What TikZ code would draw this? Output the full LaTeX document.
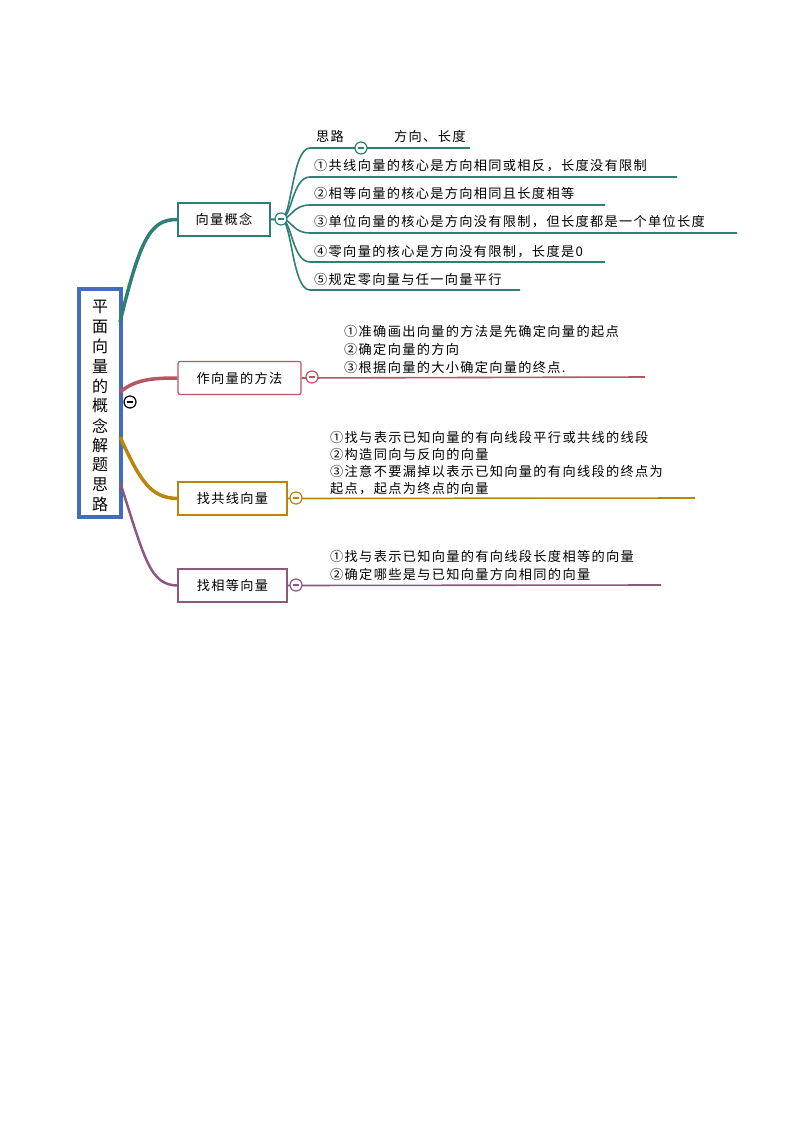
\documentclass[tikz,border=0pt]{standalone}
\usepackage{fontspec}
\setmainfont{Noto Sans CJK SC}[LetterSpace=10]
\begin{document}
\begin{tikzpicture}[x=1pt,y=-1pt,
  lab/.style={anchor=base west,inner sep=0pt,font=\fontsize{13.2}{15}\selectfont},
  topic/.style={draw,line width=1.2pt,fill=white,minimum height=33pt,font=\fontsize{13.2}{15}\selectfont,inner sep=0pt},
  minus/.style={circle,draw,fill=white,line width=1.2pt,minimum size=12pt,inner sep=0pt,path picture={\draw[line width=1.2pt] ([xshift=-3pt]path picture bounding box.center)--([xshift=3pt]path picture bounding box.center);}}]
\definecolor{teal1}{RGB}{46,128,118}
\definecolor{red1}{RGB}{183,86,98}
\definecolor{gold1}{RGB}{184,134,11}
\definecolor{purp1}{RGB}{140,88,128}
\definecolor{blue1}{RGB}{66,110,185}
\useasboundingbox (0,0) rectangle (794,1123);
% root
\node[draw=blue1,line width=4pt,minimum width=42pt,minimum height=228pt,inner sep=0pt,fill=white] (root) at (100,403) {};
\foreach \c [count=\i] in {平,面,向,量,的,概,念,解,题,思,路}
  \node[font=\fontsize{16}{17}\selectfont,inner sep=0pt] at (100,287+19.8*\i) {\c};
% topics
\node[topic,draw=teal1,minimum width=92pt] (t1) at (224,219.5) {向量概念};
\node[topic,draw=red1,minimum width=123pt,rounded corners=2pt] (t2) at (239.5,378) {作向量的方法};
\node[topic,draw=gold1,minimum width=109pt] (t3) at (232.5,498.5) {找共线向量};
\node[topic,draw=purp1,minimum width=109pt] (t4) at (232.5,585.5) {找相等向量};
% root connectors
\draw[teal1,line width=3.5pt] (120,322) .. controls (140,240) and (150,219) .. (t1.west);
\draw[red1,line width=3.5pt] (120,392) .. controls (135,380) and (150,378) .. (t2.west);
\draw[gold1,line width=3.5pt] (120,437) .. controls (140,480) and (150,498) .. (t3.west);
\draw[purp1,line width=2.5pt] (120,482) .. controls (145,560) and (150,585) .. (t4.west);
\node[circle,draw,fill=white,line width=1.2pt,minimum size=12pt,inner sep=0pt,path picture={\draw[line width=1.4pt] ([xshift=-3pt]path picture bounding box.center)--([xshift=3pt]path picture bounding box.center);}] (rm) at (130,402) {};
% teal sub-branches
\coordinate (h1) at (281,219);
\foreach \y/\e in {148/470,177/677,205/605,233/737,262/605,290/520}
  \draw[teal1,line width=1.6pt] (h1) .. controls (292,219) and (292,\y) .. (310,\y) -- (\e,\y);
\draw[teal1,line width=2pt] (t1.east) -- (h1);
\node[minus,draw=teal1] at (h1) {};
\node[minus,draw=teal1] at (361,148) {};
\node[lab] at (316,142) {思路};
\node[lab] at (394,142) {方向、长度};
\node[lab] at (314,171) {①共线向量的核心是方向相同或相反，长度没有限制};
\node[lab] at (314,199) {②相等向量的核心是方向相同且长度相等};
\node[lab] at (314,227) {③单位向量的核心是方向没有限制，但长度都是一个单位长度};
\node[lab] at (314,256) {④零向量的核心是方向没有限制，长度是0};
\node[lab] at (314,284) {⑤规定零向量与任一向量平行};
% red
\draw[red1,line width=1.6pt] (t2.east) -- (645,377);
\node[minus,draw=red1] at (312,377) {};
\node[lab] at (344,336) {①准确画出向量的方法是先确定向量的起点};
\node[lab] at (344,354) {②确定向量的方向};
\node[lab] at (344,372) {③根据向量的大小确定向量的终点.};
% gold
\draw[gold1,line width=1.6pt] (t3.east) -- (695,498);
\node[minus,draw=gold1] at (296,498) {};
\node[lab] at (330,442) {①找与表示已知向量的有向线段平行或共线的线段};
\node[lab] at (330,459) {②构造同向与反向的向量};
\node[lab] at (330,476) {③注意不要漏掉以表示已知向量的有向线段的终点为};
\node[lab] at (330,493) {起点，起点为终点的向量};
% purple
\draw[purp1,line width=1.6pt] (t4.east) -- (661,585);
\node[minus,draw=purp1] at (296,585) {};
\node[lab] at (330,561) {①找与表示已知向量的有向线段长度相等的向量};
\node[lab] at (330,579) {②确定哪些是与已知向量方向相同的向量};
\end{tikzpicture}
\end{document}
